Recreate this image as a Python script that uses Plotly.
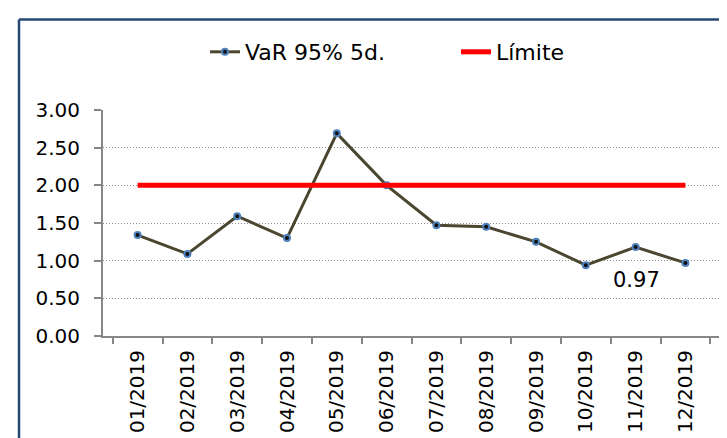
import plotly.graph_objects as go

months = ["01/2019", "02/2019", "03/2019", "04/2019", "05/2019", "06/2019",
          "07/2019", "08/2019", "09/2019", "10/2019", "11/2019", "12/2019"]
var_values = [1.34, 1.09, 1.59, 1.30, 2.69, 2.00, 1.47, 1.45, 1.25, 0.94, 1.18, 0.97]
limit_values = [2.00] * 12
y_ticks = [0.0, 0.5, 1.0, 1.5, 2.0, 2.5, 3.0]
label_text = "0.97"

W, H = 727, 438
L, R, T, B = 95, 15, 102, 110
pw, ph = W - L - R, H - T - B

def px_x(p):
    return (p - L) / pw

def px_y(p):
    return (H - B - p) / ph

FONT = "DejaVu Sans, Liberation Sans, Arial, sans-serif"

fig = go.Figure()
fig.add_trace(go.Scatter(
    x=months, y=var_values, name="VaR 95% 5d.", mode="lines+markers",
    line=dict(color="#4A4630", width=3),
    marker=dict(symbol="circle", size=6, color="#111111",
                line=dict(color="#4F81BD", width=2)),
))
fig.add_trace(go.Scatter(
    x=months, y=limit_values, name="Límite", mode="lines",
    line=dict(color="#FF0000", width=5),
))

fig.add_annotation(x=months[-1], y=var_values[-1], text=label_text,
                   showarrow=False, xshift=-49, yshift=-17,
                   font=dict(family="DejaVu Sans", size=21, color="#000000"))

border = dict(type="line", xref="paper", yref="paper",
              line=dict(color="#264673", width=2.5))
fig.add_shape(x0=px_x(11), x1=px_x(11), y0=px_y(440), y1=px_y(11.5), **border)
fig.add_shape(x0=px_x(11), x1=px_x(730), y0=px_y(11.5), y1=px_y(11.5), **border)

fig.update_layout(
    width=W, height=H,
    margin=dict(l=L, r=R, t=T, b=B, autoexpand=False),
    paper_bgcolor="white", plot_bgcolor="white",
    font=dict(family=FONT, size=20, color="#000000"),
    showlegend=True,
    legend=dict(orientation="h", x=px_x(197), xanchor="left",
                y=px_y(44), yanchor="middle",
                entrywidth=206, entrywidthmode="pixels",
                font=dict(family=FONT, size=22), bgcolor="rgba(0,0,0,0)"),
    xaxis=dict(type="category", tickangle=-90, showgrid=False,
               showline=True, linecolor="#868686", linewidth=2,
               ticks="outside", tickson="boundaries", ticklen=6,
               tickcolor="#868686", tickwidth=2, ticklabelstandoff=4,
               tickfont=dict(family=FONT, size=20)),
    yaxis=dict(range=[0, 3], tickvals=y_ticks, tickformat=".2f",
               showgrid=True, gridcolor="#8C8C8C", griddash="1px,2px", gridwidth=1,
               showline=True, linecolor="#868686", linewidth=2,
               ticks="outside", ticklen=7, tickcolor="#868686", tickwidth=2,
               ticklabelstandoff=10,
               zeroline=False, tickfont=dict(family=FONT, size=20)),
)

fig.write_html("out.html")
